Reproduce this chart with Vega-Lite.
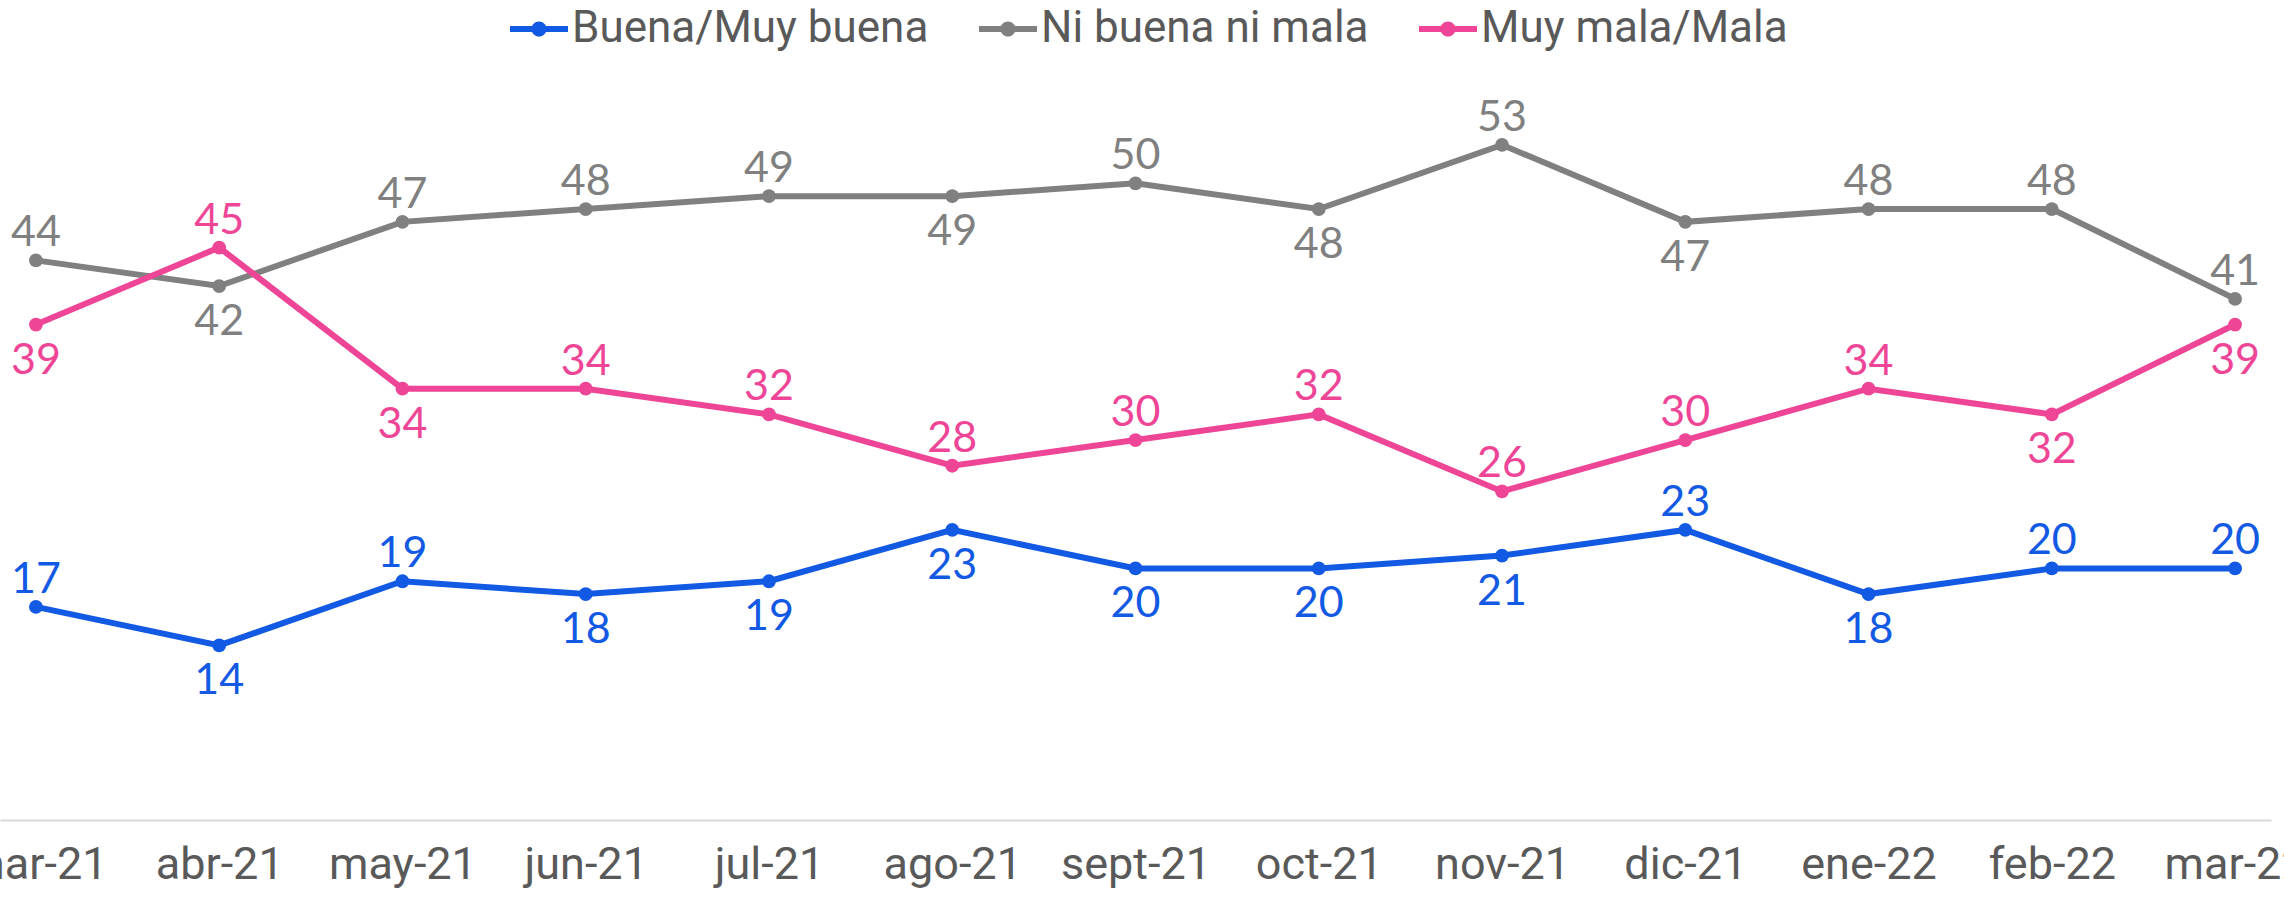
{
  "$schema": "https://vega.github.io/schema/vega-lite/v6.json",
  "width": 2271,
  "height": 765,
  "autosize": {"type": "none"},
  "padding": {"left": 0, "top": 55, "right": 13, "bottom": 77},
  "background": "white",
  "config": {"view": {"stroke": null}},
  "data": {
    "values": [
      {"mes": "mar-21", "serie": "Buena/Muy buena", "valor": 17},
      {"mes": "abr-21", "serie": "Buena/Muy buena", "valor": 14},
      {"mes": "may-21", "serie": "Buena/Muy buena", "valor": 19},
      {"mes": "jun-21", "serie": "Buena/Muy buena", "valor": 18},
      {"mes": "jul-21", "serie": "Buena/Muy buena", "valor": 19},
      {"mes": "ago-21", "serie": "Buena/Muy buena", "valor": 23},
      {"mes": "sept-21", "serie": "Buena/Muy buena", "valor": 20},
      {"mes": "oct-21", "serie": "Buena/Muy buena", "valor": 20},
      {"mes": "nov-21", "serie": "Buena/Muy buena", "valor": 21},
      {"mes": "dic-21", "serie": "Buena/Muy buena", "valor": 23},
      {"mes": "ene-22", "serie": "Buena/Muy buena", "valor": 18},
      {"mes": "feb-22", "serie": "Buena/Muy buena", "valor": 20},
      {"mes": "mar-22", "serie": "Buena/Muy buena", "valor": 20},
      {"mes": "mar-21", "serie": "Ni buena ni mala", "valor": 44},
      {"mes": "abr-21", "serie": "Ni buena ni mala", "valor": 42},
      {"mes": "may-21", "serie": "Ni buena ni mala", "valor": 47},
      {"mes": "jun-21", "serie": "Ni buena ni mala", "valor": 48},
      {"mes": "jul-21", "serie": "Ni buena ni mala", "valor": 49},
      {"mes": "ago-21", "serie": "Ni buena ni mala", "valor": 49},
      {"mes": "sept-21", "serie": "Ni buena ni mala", "valor": 50},
      {"mes": "oct-21", "serie": "Ni buena ni mala", "valor": 48},
      {"mes": "nov-21", "serie": "Ni buena ni mala", "valor": 53},
      {"mes": "dic-21", "serie": "Ni buena ni mala", "valor": 47},
      {"mes": "ene-22", "serie": "Ni buena ni mala", "valor": 48},
      {"mes": "feb-22", "serie": "Ni buena ni mala", "valor": 48},
      {"mes": "mar-22", "serie": "Ni buena ni mala", "valor": 41},
      {"mes": "mar-21", "serie": "Muy mala/Mala", "valor": 39},
      {"mes": "abr-21", "serie": "Muy mala/Mala", "valor": 45},
      {"mes": "may-21", "serie": "Muy mala/Mala", "valor": 34},
      {"mes": "jun-21", "serie": "Muy mala/Mala", "valor": 34},
      {"mes": "jul-21", "serie": "Muy mala/Mala", "valor": 32},
      {"mes": "ago-21", "serie": "Muy mala/Mala", "valor": 28},
      {"mes": "sept-21", "serie": "Muy mala/Mala", "valor": 30},
      {"mes": "oct-21", "serie": "Muy mala/Mala", "valor": 32},
      {"mes": "nov-21", "serie": "Muy mala/Mala", "valor": 26},
      {"mes": "dic-21", "serie": "Muy mala/Mala", "valor": 30},
      {"mes": "ene-22", "serie": "Muy mala/Mala", "valor": 34},
      {"mes": "feb-22", "serie": "Muy mala/Mala", "valor": 32},
      {"mes": "mar-22", "serie": "Muy mala/Mala", "valor": 39}
    ]
  },
  "encoding": {
    "x": {
      "field": "mes",
      "type": "ordinal",
      "sort": null,
      "scale": {"type": "point", "padding": 0.196},
      "axis": {
        "title": null,
        "labelAngle": 0,
        "labelFont": "Roboto",
        "labelFontSize": 45,
        "labelColor": "#595959",
        "labelPadding": 22,
        "ticks": false,
        "domainColor": "#D9D9D9",
        "domainWidth": 2,
        "labelOverlap": false,
        "labelBound": false,
        "labelFlush": false,
        "labelLimit": 0
      }
    },
    "y": {
      "field": "valor",
      "type": "quantitative",
      "scale": {"domain": [0.4, 60], "nice": false, "zero": false},
      "axis": null
    }
  },
  "layer": [
    {
      "mark": {"type": "line", "strokeWidth": 6, "point": {"filled": true, "size": 190, "opacity": 1}},
      "encoding": {
        "color": {
          "field": "serie",
          "type": "nominal",
          "scale": {
            "domain": ["Buena/Muy buena", "Ni buena ni mala", "Muy mala/Mala"],
            "range": ["#1259E3", "#808080", "#EE4597"]
          },
          "legend": {
            "title": null,
            "orient": "none",
            "legendX": 510,
            "legendY": -55,
            "direction": "horizontal",
            "labelFont": "Roboto",
            "labelFontSize": 44,
            "labelColor": "#595959",
            "labelOffset": 4,
            "labelLimit": 0,
            "columnPadding": 50,
            "symbolType": "M-1,-0.1L1,-0.1L1,0.1L-1,0.1Z M0.26,0A0.26,0.26,0,1,1,-0.26,0A0.26,0.26,0,1,1,0.26,0Z",
            "symbolSize": 3364,
            "symbolStrokeWidth": 0,
            "symbolOpacity": 1,
            "encode": {
              "symbols": {
                "update": {
                  "fill": {"scale": "color", "field": "value"},
                  "strokeWidth": {"value": 0}
                }
              }
            }
          }
        }
      }
    },
    {
      "transform": [
        {"filter": "indexof(['Buena/Muy buena|abr-21','Buena/Muy buena|jun-21','Buena/Muy buena|jul-21','Buena/Muy buena|ago-21','Buena/Muy buena|sept-21','Buena/Muy buena|oct-21','Buena/Muy buena|nov-21','Buena/Muy buena|ene-22','Ni buena ni mala|abr-21','Ni buena ni mala|ago-21','Ni buena ni mala|oct-21','Ni buena ni mala|dic-21','Muy mala/Mala|mar-21','Muy mala/Mala|may-21','Muy mala/Mala|feb-22','Muy mala/Mala|mar-22'], datum.serie + '|' + datum.mes) < 0"}
      ],
      "mark": {"type": "text", "font": "Lato", "fontSize": 43, "baseline": "alphabetic", "dy": -14},
      "encoding": {
        "text": {"field": "valor", "type": "quantitative"},
        "color": {"field": "serie", "type": "nominal", "legend": null}
      }
    },
    {
      "transform": [
        {"filter": "indexof(['Buena/Muy buena|abr-21','Buena/Muy buena|jun-21','Buena/Muy buena|jul-21','Buena/Muy buena|ago-21','Buena/Muy buena|sept-21','Buena/Muy buena|oct-21','Buena/Muy buena|nov-21','Buena/Muy buena|ene-22','Ni buena ni mala|abr-21','Ni buena ni mala|ago-21','Ni buena ni mala|oct-21','Ni buena ni mala|dic-21','Muy mala/Mala|mar-21','Muy mala/Mala|may-21','Muy mala/Mala|feb-22','Muy mala/Mala|mar-22'], datum.serie + '|' + datum.mes) >= 0"}
      ],
      "mark": {"type": "text", "font": "Lato", "fontSize": 43, "baseline": "alphabetic", "dy": 49},
      "encoding": {
        "text": {"field": "valor", "type": "quantitative"},
        "color": {"field": "serie", "type": "nominal", "legend": null}
      }
    }
  ]
}
